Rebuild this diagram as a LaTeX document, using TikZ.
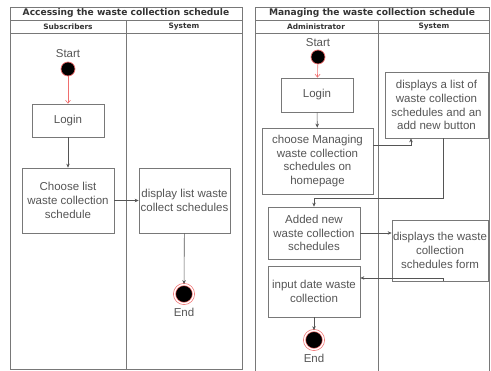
\documentclass[tikz,border=0pt]{standalone}
\usepackage{fontspec}
\setmainfont{Liberation Sans}
\newfontfamily\headfont{DejaVu Sans}
\definecolor{mygray}{RGB}{85,85,85}
\definecolor{myline}{RGB}{120,120,120}
\definecolor{myred}{RGB}{240,110,110}
\usetikzlibrary{arrows.meta,positioning,calc}

\begin{document}
\begin{tikzpicture}[x=1pt,y=-1pt,
  every node/.style={text=mygray,font=\fontsize{11.5}{13.8}\selectfont},
  lane/.style={draw=myline,line width=0.8pt},
  title/.style={font=\headfont\bfseries\fontsize{9.1}{10}\selectfont,text=black!80},
  head/.style={font=\headfont\bfseries\fontsize{7.4}{8}\selectfont,text=black!80},
  act/.style={draw=myline,line width=0.7pt,align=center,inner sep=1pt},
  startnode/.style={circle,fill=black,draw=myred,line width=0.7pt,minimum size=14pt,inner sep=0pt},
  endnode/.style={circle,fill=black,draw=myred,double=white,double distance=1.4pt,line width=0.7pt,minimum size=19pt,inner sep=0pt},
  flow/.style={draw=mygray,line width=0.6pt,-{Stealth[length=4pt,width=3.5pt]}},
  startflow/.style={draw=myred,line width=0.6pt,-{Straight Barb[length=3pt,width=5pt]}}
  ]
  \useasboundingbox (0,0) rectangle (491,371);

  % the left swimlanes
  \draw[lane] (10,7) rectangle (242,369);
  \draw[lane] (10,20) -- (242,20);
  \draw[lane] (10,33) -- (242,33);
  \draw[lane] (126,20) -- (126,369);
  \node[title] (t1) at (126,13.5) {Accessing the waste collection schedule};
  \node[head] (h1) at (68,26.5) {Subscribers};
  \node[head] (h2) at (184,26.5) {System};

  % the right swimlanes
  \draw[lane] (255,371) -- (255,7) -- (489,7) -- (489,371);
  \draw[lane] (255,20) -- (489,20);
  \draw[lane] (255,33) -- (489,33);
  \draw[lane] (378,20) -- (378,371);
  \node[title] (t2) at (372,13.5) {Managing the waste collection schedule};
  \node[head] (h3) at (316,26.5) {Administrator};
  \node[head] (h4) at (434,26.5) {System};

  % the left activities
  \node[startnode,label={[yshift=1pt]above:Start}] (s1) at (68,69) {};
  \node[act,minimum width=72pt,minimum height=33pt] (login1) at (68,120.5) {Login};
  \node[act,minimum width=92pt,minimum height=65pt] (choose1) at (68,200.5) {Choose list\\waste collection\\schedule};
  \node[act,minimum width=91pt,minimum height=65pt] (disp1) at (184.5,200.5) {display list waste\\collect schedules};
  \node[endnode,label={[yshift=-1pt]below:End}] (e1) at (184,294) {};

  % the right activities
  \node[startnode,label={[yshift=0pt]above:Start}] (s2) at (318,57) {};
  \node[act,minimum width=72pt,minimum height=34pt] (login2) at (317,95) {Login};
  \node[act,minimum width=111pt,minimum height=66pt] (choose2) at (317.5,161) {choose Managing\\waste collection\\schedules on\\homepage};
  \node[act,minimum width=103pt,minimum height=66pt] (sys1) at (436.5,105) {displays a list of\\waste collection\\schedules and an\\add new button};
  \node[act,minimum width=92pt,minimum height=52pt] (added2) at (314,233) {Added new\\waste collection\\schedules};
  \node[act,minimum width=96pt,minimum height=61pt] (sys2) at (440,250.5) {displays the waste\\collection\\schedules form};
  \node[act,minimum width=92pt,minimum height=51pt] (input2) at (314,291.5) {input date waste\\collection};
  \node[endnode,label={[yshift=-1pt]below:End}] (e2) at (314,340) {};

  % the left flows
  \draw[startflow] (s1) -- (login1);
  \draw[flow] (login1) -- (choose1);
  \draw[flow] (choose1) -- (disp1);
  \draw[flow] (disp1) -- (e1);

  % the right flows
  \draw[startflow] (s2) -- (login2);
  \draw[flow] (login2) -- (choose2);
  \draw[flow] ([yshift=16pt]choose2.east) -| ([xshift=-25.5pt]sys1.south);
  \draw[flow] ([xshift=6.5pt]sys1.south) -- ++(0,60) -| (added2.north);
  \draw[flow] (added2.east) -- (added2.east -| sys2.west);
  \draw[flow] ([xshift=3pt]sys2.south) |- ([yshift=13.5pt]input2.east);
  \draw[flow] (input2) -- (e2);
\end{tikzpicture}
\end{document}
